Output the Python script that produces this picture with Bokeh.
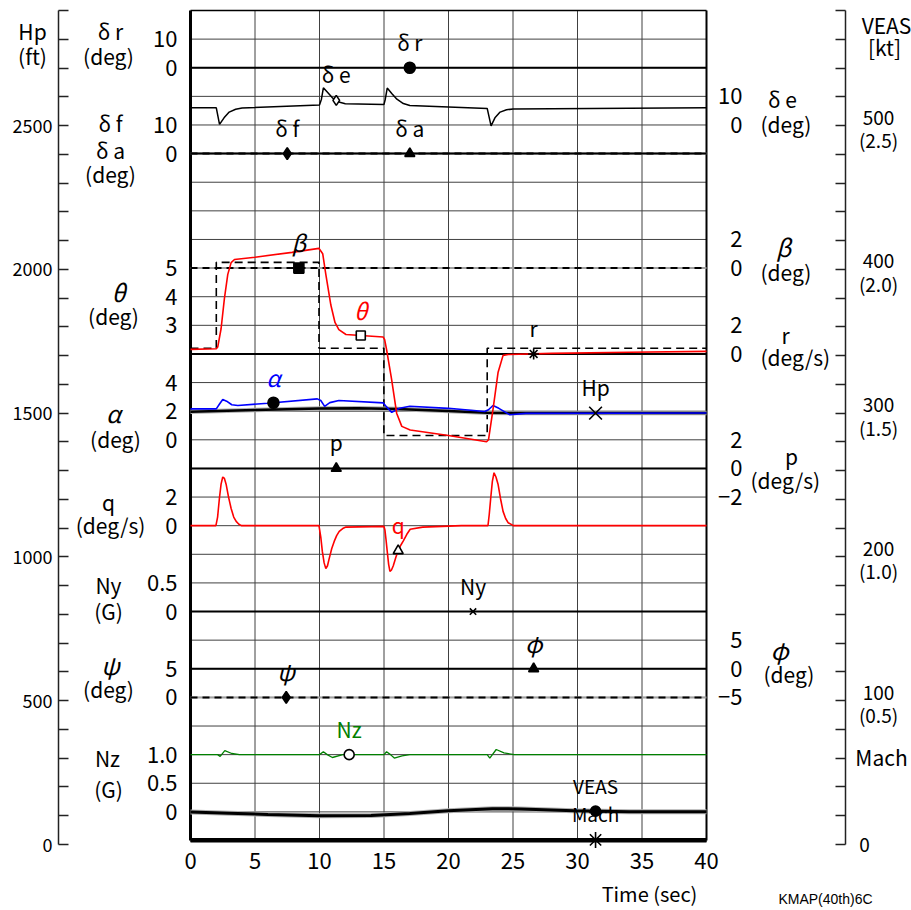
import numpy as np
from bokeh.plotting import figure
from bokeh.models import Range1d, LinearAxis, FixedTicker
from bokeh.core.properties import value
from bokeh.embed import file_html
from bokeh.resources import INLINE

# ---------------- data ----------------
time_ticks = [0, 5, 10, 15, 20, 25, 30, 35, 40]
time_span = [0, 40]
grid_rows = list(range(0, 30))          # 29 chart divisions

hp_ticks = list(range(0, 2901, 100))
hp_tick_labels = {h: (str(h) if h % 500 == 0 else "") for h in hp_ticks}
veas_ticks = list(range(0, 581, 20))
veas_label_vals = [500, 400, 300, 200, 100]
veas_label_kt = ["500", "400", "300", "200", "100"]
veas_label_mach = ["(2.5)", "(2.0)", "(1.5)", "(1.0)", "(0.5)"]

left_scale_labels = {
    "dr": {0: "0", 10: "10"},
    "dfa": {0: "0", 10: "10"},
    "theta": {3: "3", 4: "4", 5: "5"},
    "alpha": {0: "0", 2: "2", 4: "4"},
    "q": {0: "0", 2: "2"},
    "ny": {0: "0", 0.5: "0.5"},
    "psi": {0: "0", 5: "5"},
    "nz": {0: "0", 0.5: "0.5", 1.0: "1.0"},
}
right_scale_labels = {
    "de": {0: "0", 10: "10"},
    "beta": {0: "0", 2: "2"},
    "r": {0: "0", 2: "2"},
    "p": {-2: "\u22122", 0: "0", 2: "2"},
    "phi": {-5: "\u22125", 0: "0", 5: "5"},
}

# elevator (deg)
de_t = [0, 2.0, 2.25, 2.6, 3.0, 3.5, 4.0, 10.0, 10.15, 10.3, 10.6, 11.0, 11.5, 12.0, 15.0,
        15.1, 15.25, 15.6, 16.0, 16.5, 17.0, 23.0, 23.3, 23.6, 24.0, 24.5, 25.0, 40]
de_v = [6.0, 6.0, 0.2, 2.5, 4.5, 5.5, 5.9, 7.0, 9.0, 13.0, 11.5, 9.5, 8.0, 7.4, 7.2,
        9.0, 12.9, 11.0, 9.0, 7.5, 6.8, 5.8, -0.3, 2.5, 4.5, 5.3, 5.6, 6.0]
# pitch attitude (deg)
theta_t = [0, 2.0, 2.11, 2.37, 2.63, 2.89, 3.15, 3.41, 5.0, 7.87, 9.95, 10.25, 10.49, 10.88,
           11.2, 11.5, 12.05, 14.94, 15.05, 15.19, 15.59, 15.98, 16.38, 17.03, 20.0, 22.95,
           23.1, 23.45, 23.84, 24.23, 24.63, 28.0, 34.0, 40]
theta_v = [2.16, 2.18, 2.24, 2.88, 3.94, 4.78, 5.19, 5.30, 5.38, 5.55, 5.69, 5.5, 4.78, 3.71,
           3.1, 2.85, 2.68, 2.59, 2.5, 2.18, 1.11, -0.07, -0.53, -0.66, -0.85, -1.07,
           -1.0, 0.06, 1.35, 1.95, 1.98, 2.02, 2.06, 2.09]
# pitch command steps (deg)
theta_cmd_t = [0, 2.0, 2.0, 9.96, 9.96, 14.99, 14.99, 23.0, 23.0, 40]
theta_cmd_v = [2.2, 2.2, 5.2, 5.2, 2.2, 2.2, -0.85, -0.85, 2.2, 2.2]
# angle of attack (deg)
alpha_t = [0, 2.0, 2.25, 2.5, 2.8, 3.2, 3.67, 6.0, 9.83, 10.1, 10.4, 10.8, 11.5, 14.95,
           15.2, 15.6, 16.2, 17.0, 20.0, 22.8, 23.1, 23.45, 23.9, 24.76, 26.0, 40]
alpha_v = [2.16, 2.16, 2.5, 2.82, 2.7, 2.45, 2.4, 2.55, 2.86, 2.75, 2.34, 2.6, 2.75, 2.58,
           2.3, 1.92, 2.2, 2.34, 2.2, 1.98, 2.1, 2.4, 2.2, 1.75, 1.85, 1.87]
# pitch rate (deg/s)
q_t = [0, 1.97, 2.1, 2.24, 2.37, 2.5, 2.63, 2.76, 2.95, 3.15, 3.35, 3.54, 3.75, 3.94,
       9.96, 10.1, 10.22, 10.36, 10.49, 10.62, 10.75, 10.95, 11.14, 11.33, 11.53, 11.8, 12.05,
       15.0, 15.07, 15.16, 15.25, 15.36, 15.46, 15.58, 15.72, 15.92, 16.12, 16.31, 16.51,
       16.77, 17.03, 18.0, 21.0,
       23.06, 23.16, 23.27, 23.4, 23.53, 23.68, 23.84, 24.03, 24.23, 24.43, 24.63, 25.03, 40]
q_v = [0, 0, 0.6, 1.9, 2.9, 3.4, 3.3, 2.9, 2.0, 1.2, 0.6, 0.3, 0.1, 0,
       0, -0.8, -1.8, -2.6, -3.0, -2.8, -2.3, -1.6, -1.1, -0.7, -0.4, -0.2, -0.1,
       -0.05, -0.3, -1.0, -1.8, -2.7, -3.2, -3.1, -2.8, -2.2, -1.7, -1.35, -1.05,
       -0.6, -0.25, -0.1, 0,
       0, 0.8, 1.9, 3.1, 3.7, 3.4, 2.9, 1.9, 1.0, 0.5, 0.2, 0, 0]
# normal load factor (G)
nz_t = [0, 2.1, 2.3, 2.66, 3.2, 3.8, 10.0, 10.3, 10.6, 11.0, 11.8, 15.0, 15.2, 15.5, 15.8,
        16.4, 17.0, 23.0, 23.2, 23.7, 24.3, 25.1, 40]
nz_v = [1.0, 1.0, 0.97, 1.07, 1.02, 1.0, 1.0, 1.05, 1.0, 0.95, 1.0, 1.0, 1.05, 1.0, 0.94,
        0.98, 1.0, 1.0, 0.94, 1.09, 1.03, 1.0, 1.0]
# pressure altitude (ft)
hp_t = [0, 5, 10, 13, 16, 20, 23, 26, 30, 35, 40]
hp_v = [1505, 1511, 1516, 1517, 1514, 1507, 1501, 1500, 1500, 1500, 1500]
# equivalent airspeed (kt) and Mach
veas_t = [0, 3, 6, 10, 14, 17, 20, 23.4, 25.6, 29.7, 34, 40]
veas_v = [22.6, 21.8, 20.9, 20.0, 20.2, 21.6, 23.5, 24.9, 24.7, 23.5, 22.8, 22.8]
mach_t = [0, 40]
mach_v = [0.016, 0.016]
# channels that stay at zero
zero_t = [0, 40]
dr_v = [0, 0]
df_v = [0, 0]
da_v = [0, 0]
beta_v = [0, 0]
r_v = [0, 0]
p_v = [0, 0]
ny_v = [0, 0]
phi_v = [0, 0]
psi_v = [0, 0]

# symbol times on each trace (s)
marker_times = {"dr": 17.0, "de": 11.3, "df": 7.5, "da": 17.0, "beta": 8.4, "theta": 13.2,
                "r": 26.6, "alpha": 6.43, "hp": 31.4, "p": 11.3, "q": 16.1, "ny": 21.9,
                "phi": 26.6, "psi": 7.42, "nz": 12.3, "veas": 31.4, "mach": 31.4}

# ---------------- layout / scales ----------------
W, H = 911, 910
X0PX, PXS = 190.0, 12.9            # px of t=0, px per second
BOT, PXD = 840.0, 830.0 / 29       # px of bottom row, px per division
HP0, PXF = 844.0, 834.0 / 2900     # px of Hp=0, px per ft
x_start, x_end = -X0PX / PXS, (W - X0PX) / PXS
y_start, y_end = -(H - BOT) / PXD, BOT / PXD
hp_start, hp_end = -(H - HP0) / PXF, HP0 / PXF

# zero row and units per division for each channel
chan_scale = {"dr": (27, 10), "de": (25, 10), "dfa": (24, 10), "beta": (20, 2), "r": (17, 2),
              "theta": (15, 1), "alpha": (14, 2), "p": (13, 2), "q": (11, 2), "ny": (8, 0.5),
              "phi": (6, 5), "psi": (5, 5), "nz": (1, 0.5)}

JP = "Noto Sans CJK JP"


def tx(sx):
    return (sx - X0PX) / PXS


def ky(sy):
    return (BOT - sy) / PXD


p = figure(width=W, height=H, x_range=Range1d(x_start, x_end), y_range=Range1d(y_start, y_end),
           output_backend="svg", toolbar_location=None, y_axis_location=None,
           min_border=0, outline_line_color=None, background_fill_color="white",
           border_fill_color="white")
p.grid.visible = False

extra = {name: Range1d((y_start - row) * unit, (y_end - row) * unit)
         for name, (row, unit) in chan_scale.items()}
extra["hp"] = Range1d(hp_start, hp_end)
extra["veas"] = Range1d(hp_start / 5, hp_end / 5)
extra["mach"] = Range1d(hp_start / 1000, hp_end / 1000)
p.extra_y_ranges = extra

# ---- chart grid ----
inner_t = time_ticks[1:-1]
p.segment(x0=inner_t, y0=[grid_rows[0]] * len(inner_t), x1=inner_t,
          y1=[grid_rows[-1]] * len(inner_t), line_color="#404040", line_width=1)
inner_rows = grid_rows[1:-1]
p.segment(x0=[time_span[0]] * len(inner_rows), y0=inner_rows, x1=[time_span[1]] * len(inner_rows),
          y1=inner_rows, line_color="#404040", line_width=1)
# frame
p.line([time_span[0], time_span[0]], [grid_rows[0], grid_rows[-1]], line_color="black", line_width=3)
p.line([time_span[1], time_span[1]], [grid_rows[0], grid_rows[-1]], line_color="black", line_width=2)
p.line(time_span, [grid_rows[-1], grid_rows[-1]], line_color="black", line_width=1.5)

# ---- traces ----
for name, vals in (("dfa", df_v), ("beta", beta_v), ("psi", psi_v)):
    p.line(zero_t, vals, y_range_name=name, line_color="#a0a0a0", line_width=2)
p.line(zero_t, da_v, y_range_name="dfa", line_color="black", line_width=2)
for name, vals in (("dfa", df_v), ("beta", beta_v), ("psi", psi_v)):
    p.line(zero_t, vals, y_range_name=name, line_color="black", line_width=2, line_dash="7 5")
for name, vals in (("dr", dr_v), ("r", r_v), ("p", p_v), ("ny", ny_v), ("phi", phi_v)):
    p.line(zero_t, vals, y_range_name=name, line_color="black", line_width=2)

p.line(de_t, de_v, y_range_name="de", line_color="black", line_width=1.5)
p.line(theta_cmd_t, theta_cmd_v, y_range_name="theta", line_color="black", line_width=1.6,
       line_dash="8 5")
p.line(hp_t, hp_v, y_range_name="hp", line_color="#b0b0b0", line_width=4.5)
p.line(hp_t, hp_v, y_range_name="hp", line_color="black", line_width=2.5)
p.line(alpha_t, alpha_v, y_range_name="alpha", line_color="#0000ff", line_width=1.6)
p.line(theta_t, theta_v, y_range_name="theta", line_color="#ff0000", line_width=1.6)
p.line(q_t, q_v, y_range_name="q", line_color="#ff0000", line_width=1.6)
p.line(nz_t, nz_v, y_range_name="nz", line_color="#008000", line_width=1.3)
p.line(veas_t, veas_v, y_range_name="veas", line_color="#b0b0b0", line_width=5)
p.line(veas_t, veas_v, y_range_name="veas", line_color="black", line_width=3)
p.line(mach_t, mach_v, y_range_name="mach", line_color="black", line_width=4)

# ---- symbols and trace names ----
series = {"dr": (zero_t, dr_v, "dr"), "de": (de_t, de_v, "de"), "df": (zero_t, df_v, "dfa"),
          "da": (zero_t, da_v, "dfa"), "beta": (zero_t, beta_v, "beta"),
          "theta": (theta_t, theta_v, "theta"), "r": (zero_t, r_v, "r"),
          "alpha": (alpha_t, alpha_v, "alpha"), "hp": (hp_t, hp_v, "hp"),
          "p": (zero_t, p_v, "p"), "q": (q_t, q_v, "q"), "ny": (zero_t, ny_v, "ny"),
          "phi": (zero_t, phi_v, "phi"), "psi": (zero_t, psi_v, "psi"),
          "nz": (nz_t, nz_v, "nz"), "veas": (veas_t, veas_v, "veas"),
          "mach": (mach_t, mach_v, "mach")}
# name: (label, marker, size, filled, label colour, italic, label size)
sym_style = {
    "dr": ("\u03b4 r", "circle", 11, True, "black", False, 21),
    "de": ("\u03b4 e", "diamond", 10, False, "black", False, 21),
    "df": ("\u03b4 f", "diamond", 12, True, "black", False, 21),
    "da": ("\u03b4 a", "triangle", 10, True, "black", False, 21),
    "beta": ("\u03b2", "square", 10, True, "black", True, 23),
    "theta": ("\u03b8", "square", 9, False, "#ff0000", True, 23),
    "r": ("r", "asterisk", 11, False, "black", False, 21),
    "alpha": ("\u03b1", "circle", 11, True, "#0000ff", True, 23),
    "hp": ("Hp", "x", 18, False, "black", False, 21),
    "p": ("p", "triangle", 10, True, "black", False, 21),
    "q": ("q", "triangle", 10, False, "#ff0000", False, 21),
    "ny": ("Ny", "x", 9, False, "black", False, 21),
    "phi": ("\u03c6", "triangle", 10, True, "black", True, 23),
    "psi": ("\u03c8", "diamond", 12, True, "black", True, 23),
    "nz": ("Nz", "circle", 10, False, "#008000", False, 21),
    "veas": ("VEAS", "circle", 10, True, "black", False, 19),
    "mach": ("Mach", "asterisk", 16, False, "black", False, 19),
}
for key, (ts, vs, rng) in series.items():
    lab, mk, sz, filled, col, ital, lsz = sym_style[key]
    t0 = marker_times[key]
    v0 = float(np.interp(t0, ts, vs))
    p.scatter([t0], [v0], y_range_name=rng, marker=mk, size=sz, line_color="black",
              line_width=1.6, fill_color="black" if filled else "white")
    p.text([t0], [v0], text=[lab], y_range_name=rng, y_offset=-26, text_align="center",
           text_baseline="middle", text_color=col, text_font=value(JP),
           text_font_size=f"{lsz}px", text_font_style="italic" if ital else "normal")

# ---- axes ----
xa = p.xaxis[0]
xa.fixed_location = 0
xa.bounds = (0, 40)
xa.ticker = FixedTicker(ticks=time_ticks)
xa.axis_line_width = 4
xa.axis_line_color = "black"
xa.major_tick_in = 0
xa.major_tick_out = 0
xa.minor_tick_line_color = None
xa.major_label_standoff = 12
xa.major_label_text_font = JP
xa.major_label_text_font_size = "22px"
xa.major_label_text_color = "black"

hp_ax = LinearAxis(y_range_name="hp", fixed_location=tx(58), bounds=(0, 2900),
                   ticker=FixedTicker(ticks=hp_ticks), major_label_overrides=hp_tick_labels,
                   major_tick_in=10, major_tick_out=0, minor_tick_line_color=None,
                   axis_line_width=1.5, major_tick_line_width=1.5, axis_line_color="#222222",
                   major_tick_line_color="#222222", major_label_standoff=6,
                   major_label_text_font=JP, major_label_text_font_size="18px",
                   major_label_text_color="black")
p.add_layout(hp_ax, "left")

veas_ax = LinearAxis(y_range_name="veas", fixed_location=tx(845), bounds=(0, 580),
                     ticker=FixedTicker(ticks=veas_ticks),
                     major_label_overrides={v: "" for v in veas_ticks},
                     major_tick_in=10, major_tick_out=0, minor_tick_line_color=None,
                     axis_line_width=1.5, major_tick_line_width=1.5, axis_line_color="#222222",
                     major_tick_line_color="#222222", major_label_standoff=12,
                     major_label_text_font=JP, major_label_text_font_size="18px",
                     major_label_text_color="black")
p.add_layout(veas_ax, "right")
# VEAS / Mach tick labels (two lines, centred)
p.text([tx(878)] * len(veas_label_vals), veas_label_vals, text=veas_label_kt, y_range_name="veas",
       y_offset=-8, text_align="center", text_baseline="middle", text_color="black",
       text_font=value(JP), text_font_size="19px")
p.text([tx(878)] * len(veas_label_vals), veas_label_vals, text=veas_label_mach, y_range_name="veas",
       y_offset=14, text_align="center", text_baseline="middle", text_color="black",
       text_font=value(JP), text_font_size="19px")
p.text([tx(864)], [veas_ticks[0]], text=["0"], y_range_name="veas", text_align="center",
       text_baseline="middle", text_color="black", text_font=value(JP), text_font_size="19px")

for name, labs in left_scale_labels.items():
    ax = LinearAxis(y_range_name=name, fixed_location=0, ticker=FixedTicker(ticks=list(labs)),
                    major_label_overrides=labs, axis_line_color=None, major_tick_line_color=None,
                    minor_tick_line_color=None, major_tick_in=0, major_tick_out=0,
                    major_label_standoff=13, major_label_text_font=JP,
                    major_label_text_font_size="22px", major_label_text_color="black")
    p.add_layout(ax, "left")
for name, labs in right_scale_labels.items():
    ax = LinearAxis(y_range_name=name, fixed_location=tx(744), ticker=FixedTicker(ticks=list(labs)),
                    major_label_overrides=labs, axis_line_color=None, major_tick_line_color=None,
                    minor_tick_line_color=None, major_tick_in=0, major_tick_out=0,
                    major_label_standoff=2, major_label_text_font=JP,
                    major_label_text_font_size="22px", major_label_text_color="black")
    p.add_layout(ax, "left")

# ---- channel titles ----
titles = [
    ("Hp", 32, 30, "center", False), ("(ft)", 32, 55, "center", False),
    ("\u03b4 r", 110, 30, "center", False), ("(deg)", 108, 55, "center", False),
    ("\u03b4 f", 110, 122, "center", False), ("\u03b4 a", 110, 149, "center", False),
    ("(deg)", 110, 173, "center", False),
    ("\u03b8", 118, 291, "center", True), ("(deg)", 113, 315, "center", False),
    ("\u03b1", 113, 412, "center", True), ("(deg)", 115, 438, "center", False),
    ("q", 108, 501, "center", False), ("(deg/s)", 110, 524, "center", False),
    ("Ny", 108, 584, "center", False), ("(G)", 108, 610, "center", False),
    ("\u03c8", 110, 664, "center", True), ("(deg)", 108, 688, "center", False),
    ("Nz", 107, 757, "center", False), ("(G)", 108, 788, "center", False),
    ("\u03b4 e", 782, 98, "center", False), ("(deg)", 760, 123, "left", False),
    ("\u03b2", 783, 246, "center", True), ("(deg)", 760, 271, "left", False),
    ("r", 785, 334, "center", False), ("(deg/s)", 760, 356, "left", False),
    ("p", 791, 455, "center", False), ("(deg/s)", 750, 479, "left", False),
    ("\u03c6", 779, 649, "center", True), ("(deg)", 763, 673, "left", False),
    ("VEAS", 886, 24, "center", False), ("[kt]", 884, 46, "center", False),
    ("Mach", 881, 756, "center", False),
]
for txt, sx, sy, al, ital in titles:
    p.text([tx(sx)], [ky(sy)], text=[txt], text_align=al, text_baseline="middle",
           text_color="black", text_font=value(JP),
           text_font_size="24px" if ital else "21px",
           text_font_style="italic" if ital else "normal")
p.text([tx(649)], [ky(893)], text=["Time (sec)"], text_align="center", text_baseline="middle",
       text_color="black", text_font=value(JP), text_font_size="20px")
p.text([tx(825)], [ky(898)], text=["KMAP(40th)6C"], text_align="center", text_baseline="middle",
       text_color="black", text_font=value("Liberation Sans"), text_font_size="14px")

open("out.html", "w").write(file_html(p, INLINE))
